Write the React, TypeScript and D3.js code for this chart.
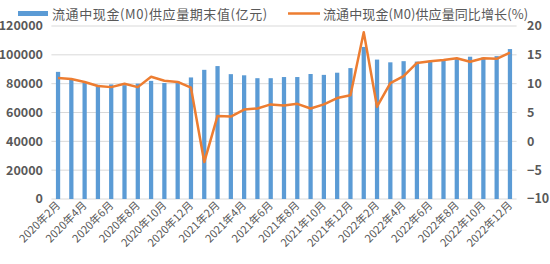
import React from "react";
import * as d3 from "d3";

const months: string[] = [
  "2020年2月","2020年3月","2020年4月","2020年5月","2020年6月","2020年7月","2020年8月","2020年9月","2020年10月","2020年11月","2020年12月",
  "2021年1月","2021年2月","2021年3月","2021年4月","2021年5月","2021年6月","2021年7月","2021年8月","2021年9月","2021年10月","2021年11月","2021年12月",
  "2022年1月","2022年2月","2022年3月","2022年4月","2022年5月","2022年6月","2022年7月","2022年8月","2022年9月","2022年10月","2022年11月","2022年12月",
];

const m0Supply: number[] = [
  88187, 83022, 80983, 79202, 79459, 78981, 80043, 81936, 80447, 81600, 84315,
  89600, 92200, 86600, 85800, 83800, 83800, 84600, 84600, 86700, 86100, 87600, 90800,
  105500, 96700, 94800, 95600, 95300, 95800, 95900, 97000, 98700, 98100, 99100, 104000,
];

const m0Growth: number[] = [
  11.0, 10.8, 10.3, 9.6, 9.4, 10.0, 9.4, 11.2, 10.5, 10.3, 9.3,
  -3.6, 4.4, 4.3, 5.5, 5.7, 6.4, 6.2, 6.5, 5.7, 6.4, 7.5, 8.0,
  18.9, 6.0, 10.1, 11.3, 13.6, 13.9, 14.1, 14.4, 13.8, 14.4, 14.3, 15.4,
];

const leftTicks: number[] = [0, 20000, 40000, 60000, 80000, 100000, 120000];
const rightTicks: number[] = [-10, -5, 0, 5, 10, 15, 20];

const barLegend = "流通中现金(M0)供应量期末值(亿元)";
const lineLegend = "流通中现金(M0)供应量同比增长(%)";

const W = 550;
const H = 264;
const FONT = "'Noto Sans CJK SC', 'Noto Sans', sans-serif";
const TEXT = "#595959";

export default function App() {
  const x = d3.scaleBand<string>().domain(months).range([51.4, 516.6]).paddingInner(0.68).paddingOuter(0.34);
  const yL = d3.scaleLinear().domain([0, 120000]).range([199, 26]);
  const yR = d3.scaleLinear().domain([-10, 20]).range([199, 26]);
  const cx = (m: string) => (x(m) as number) + x.bandwidth() / 2;
  const line = d3
    .line<number>()
    .x((_, i) => cx(months[i]))
    .y((d) => yR(d));

  return (
    <svg width={W} height={H} style={{ position: "absolute", left: 0, top: 0, background: "#fff" }} fontFamily={FONT}>
      {leftTicks.map((t) => (
        <line key={"g" + t} x1={51.4} x2={516.6} y1={yL(t)} y2={yL(t)} stroke="#d9d9d9" strokeWidth={1} />
      ))}
      {leftTicks.map((t) => (
        <text key={"l" + t} x={43} y={yL(t)} dy="0.35em" textAnchor="end" fontSize={12.5} fontWeight="bold" fill={TEXT}>
          {t}
        </text>
      ))}
      {rightTicks.map((t) => (
        <text key={"r" + t} x={527} y={yR(t)} dy="0.35em" textAnchor="start" fontSize={12.5} fontWeight="bold" fill={TEXT}>
          {t < 0 ? "−" + Math.abs(t) : t}
        </text>
      ))}
      {months.map((m, i) => (
        <rect key={"b" + m} x={x(m)} y={yL(m0Supply[i])} width={x.bandwidth()} height={yL(0) - yL(m0Supply[i])} fill="#5B9BD5" />
      ))}
      <path d={line(m0Growth) || ""} fill="none" stroke="#ED7D31" strokeWidth={2.5} strokeLinejoin="round" />
      {months.map((m, i) =>
        i % 2 === 0 ? (
          <text
            key={"x" + m}
            transform={`translate(${cx(m) + 3},${206}) rotate(-45)`}
            textAnchor="end"
            fontSize={11}
            fill={TEXT}
          >
            {m}
          </text>
        ) : null
      )}
      <rect x={18} y={11} width={30} height={5} fill="#5B9BD5" />
      <text x={52} y={14} dy="0.35em" fontSize={13} letterSpacing={0.6} fill={TEXT}>
        {barLegend}
      </text>
      <line x1={288} x2={320} y1={13.5} y2={13.5} stroke="#ED7D31" strokeWidth={2.5} />
      <text x={323} y={14} dy="0.35em" fontSize={13} letterSpacing={0.1} fill={TEXT}>
        {lineLegend}
      </text>
    </svg>
  );
}
